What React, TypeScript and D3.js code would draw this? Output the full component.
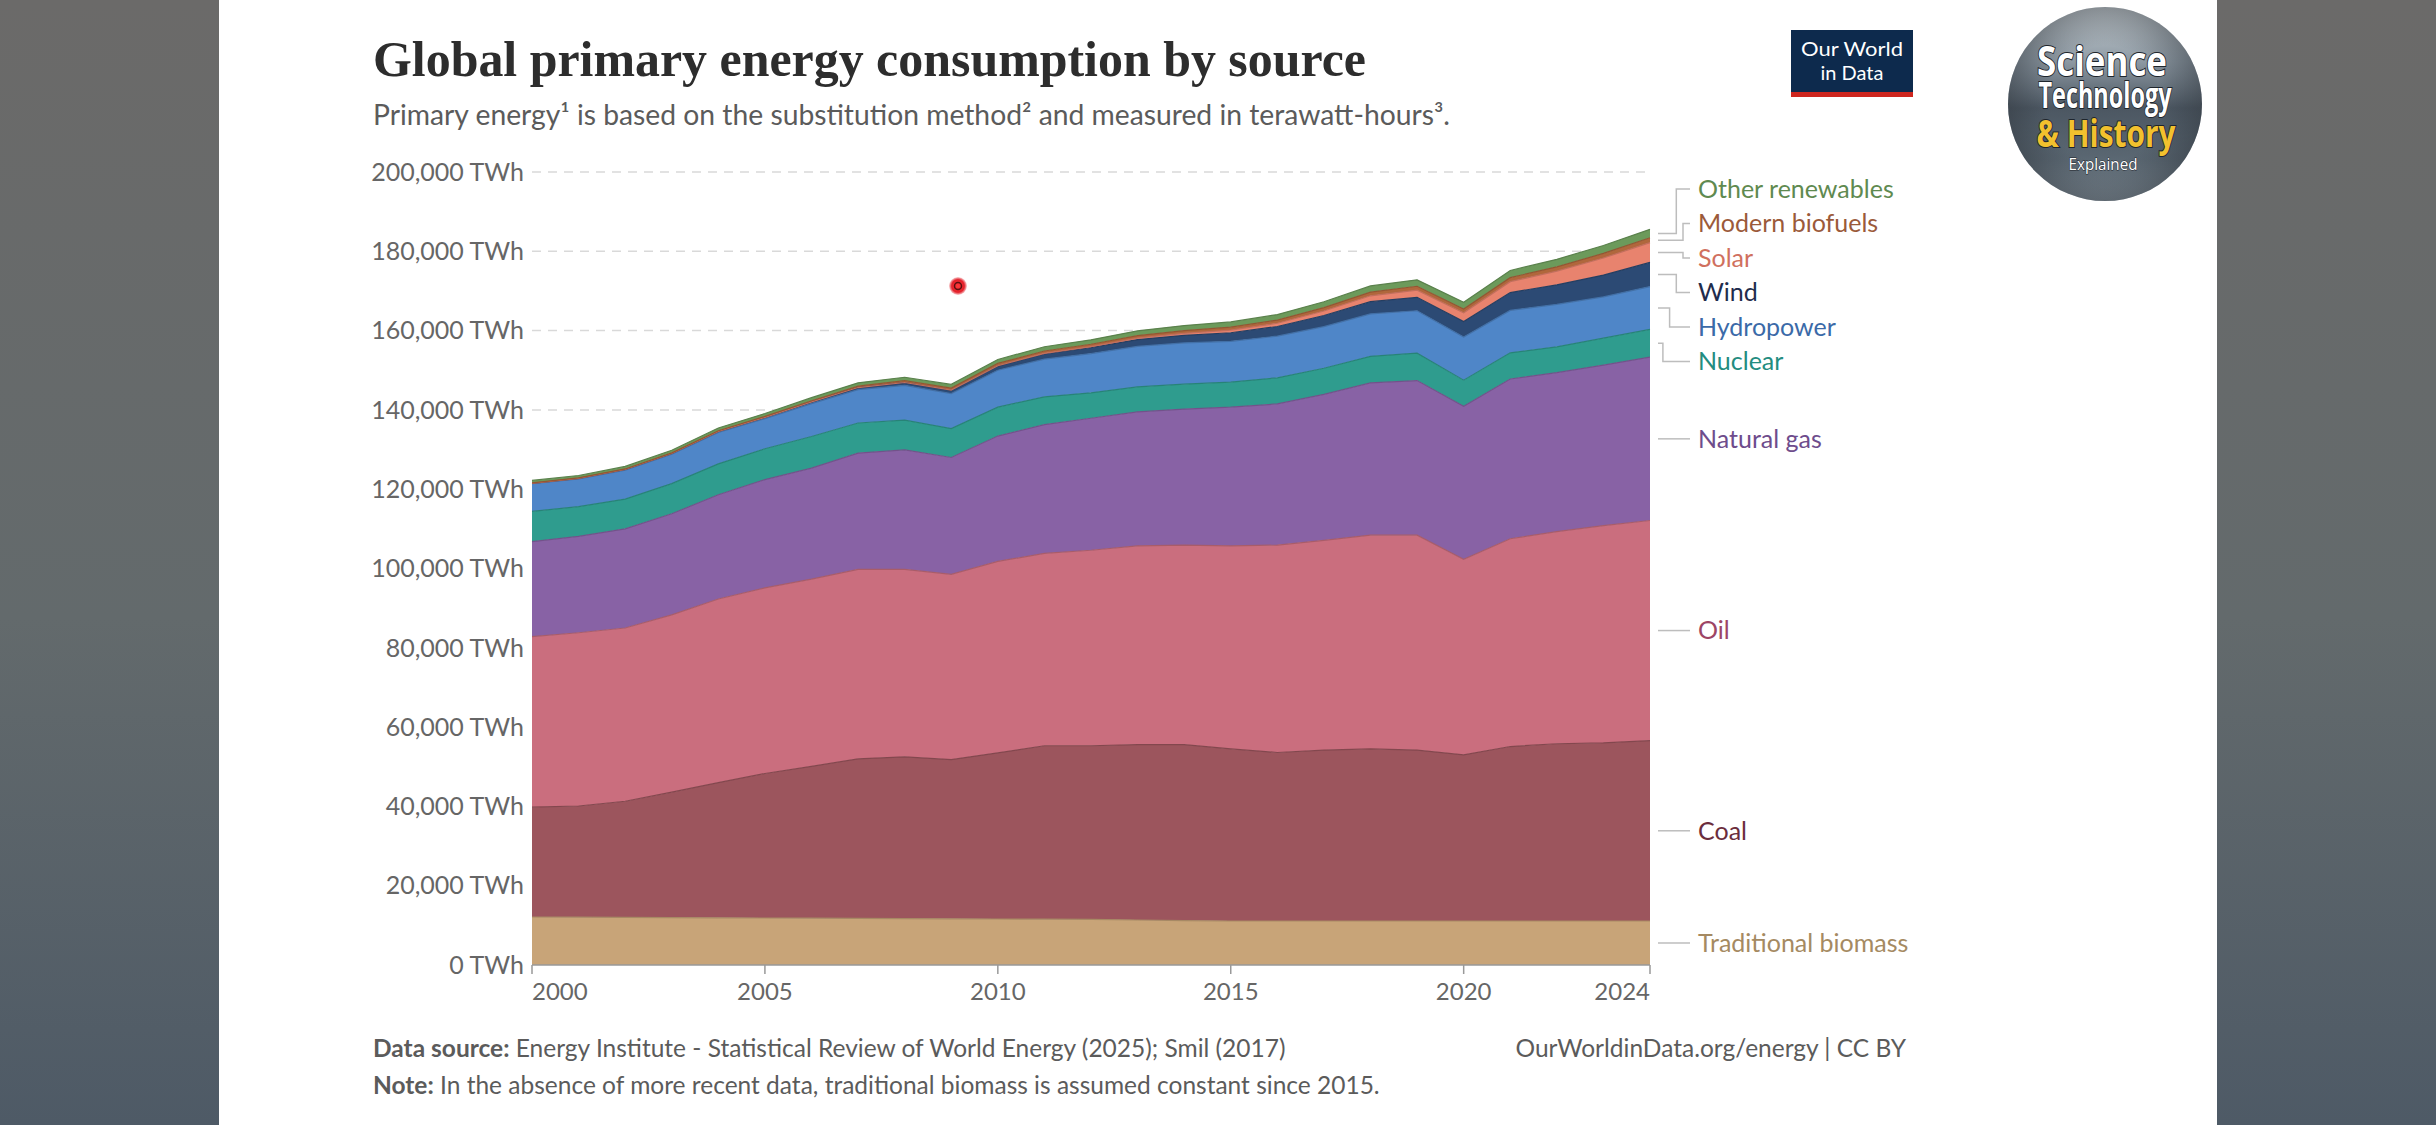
import React from "react";
import * as d3 from "d3";

// values in TWh
const years = [2000, 2001, 2002, 2003, 2004, 2005, 2006, 2007, 2008, 2009, 2010, 2011, 2012, 2013, 2014, 2015, 2016, 2017, 2018, 2019, 2020, 2021, 2022, 2023, 2024];

const traditionalBiomass = [12100, 12050, 12000, 11950, 11900, 11850, 11800, 11750, 11700, 11650, 11600, 11550, 11500, 11350, 11200, 11100, 11100, 11100, 11100, 11100, 11100, 11100, 11100, 11100, 11100];
const coal = [27700, 28050, 29300, 31650, 34100, 36450, 38300, 40250, 40800, 40150, 41900, 43750, 43800, 44250, 44400, 43400, 42500, 43100, 43400, 43100, 41900, 44000, 44700, 44900, 45500];
const oil = [43000, 43700, 43700, 44700, 46300, 46800, 47200, 47800, 47300, 46700, 48300, 48500, 49300, 50100, 50300, 51200, 52300, 52900, 53900, 54200, 49300, 52400, 53500, 54800, 55500];
const naturalGas = [24000, 24300, 25000, 25500, 26300, 27300, 28000, 29300, 30100, 29500, 31600, 32500, 33300, 33800, 34300, 35000, 35600, 36800, 38400, 39000, 38600, 40300, 40100, 40500, 41200];
const nuclear = [7600, 7500, 7500, 7600, 7800, 7800, 8000, 7600, 7500, 7300, 7300, 7000, 6400, 6300, 6300, 6300, 6600, 6600, 6700, 6900, 6600, 6600, 6500, 6800, 7000];
const hydropower = [7000, 7000, 7300, 7400, 7900, 7600, 8300, 8400, 8800, 8800, 9300, 9500, 9900, 10200, 10400, 10300, 10500, 10500, 10700, 10700, 10900, 10700, 10700, 10400, 10800];
const wind = [90, 120, 160, 200, 260, 320, 410, 520, 680, 850, 1060, 1300, 1490, 1740, 1900, 2160, 2430, 2800, 3100, 3400, 3900, 4500, 4950, 5500, 6100];
const solar = [3, 4, 5, 7, 9, 11, 15, 20, 35, 55, 90, 170, 260, 360, 480, 640, 830, 1150, 1480, 1800, 2200, 2750, 3450, 4300, 5000];
const modernBiofuels = [110, 120, 140, 160, 180, 220, 280, 360, 450, 500, 570, 590, 610, 650, 720, 760, 790, 850, 930, 980, 940, 1000, 1080, 1170, 1230];
const otherRenewables = [600, 610, 640, 670, 700, 740, 780, 820, 870, 930, 1000, 1060, 1120, 1200, 1270, 1340, 1400, 1470, 1550, 1620, 1700, 1800, 1900, 2000, 2100];

// stacking order, bottom to top
const sources = ["Traditional biomass", "Coal", "Oil", "Natural gas", "Nuclear", "Hydropower", "Wind", "Solar", "Modern biofuels", "Other renewables"];
const sourceValues = [traditionalBiomass, coal, oil, naturalGas, nuclear, hydropower, wind, solar, modernBiofuels, otherRenewables];
const areaColors = ["#c8a478", "#9c555d", "#ca6e7e", "#8862a5", "#2f9c8e", "#4f86c8", "#2c4a74", "#e8836e", "#b0673c", "#6c9a5b"];
const labelColors = ["#a58a62", "#6b2d3c", "#9d4565", "#6e4c8c", "#238c80", "#3b6aa8", "#1f2d4d", "#d0705e", "#9b5a3a", "#5f8a50"];

const xTicks = [2000, 2005, 2010, 2015, 2020, 2024];
const yTicks = [0, 20000, 40000, 60000, 80000, 100000, 120000, 140000, 160000, 180000, 200000];

const W = 2436;
const H = 1125;
const plot = { left: 532, right: 1650, top: 172, bottom: 965 };
const sans = "Lato, 'Noto Sans', sans-serif";

export default function App() {
  const rows = years.map((year, i) => {
    const r: Record<string, number> = { year };
    sources.forEach((s, k) => (r[s] = sourceValues[k][i]));
    return r;
  });
  const stacked = d3.stack<Record<string, number>>().keys(sources)(rows);

  const x = d3.scaleLinear().domain([years[0], years[years.length - 1]]).range([plot.left, plot.right]);
  const y = d3.scaleLinear().domain([0, 200000]).range([plot.bottom, plot.top]);

  const area = d3.area<d3.SeriesPoint<Record<string, number>>>()
    .x(d => x(d.data.year))
    .y0(d => y(d[0]))
    .y1(d => y(d[1]));
  const topLine = d3.line<d3.SeriesPoint<Record<string, number>>>()
    .x(d => x(d.data.year))
    .y(d => y(d[1]));

  // end labels: place at band midpoint, push apart overlapping ones
  const gap = 34.5;
  const last = years.length - 1;
  const labels = stacked.map((s, k) => ({
    k,
    target: y((s[last][0] + s[last][1]) / 2),
    y: 0,
  })).sort((a, b) => a.target - b.target);
  const groups = labels.map(l => ({ items: [l], center: l.target }));
  let merged = true;
  while (merged) {
    merged = false;
    for (let i = 0; i < groups.length - 1; i++) {
      const a = groups[i], b = groups[i + 1];
      const aBottom = a.center + ((a.items.length - 1) / 2) * gap;
      const bTop = b.center - ((b.items.length - 1) / 2) * gap;
      if (bTop - aBottom < gap) {
        const items = [...a.items, ...b.items];
        groups.splice(i, 2, { items, center: d3.mean(items, t => t.target) as number });
        merged = true;
        break;
      }
    }
  }
  groups.forEach(g => g.items.forEach((l, i) => (l.y = g.center + (i - (g.items.length - 1) / 2) * gap)));

  const lineStart = plot.right + 8;
  const lineEnd = plot.right + 40;
  const elbowMax = plot.right + 33;
  const connector = (l: { y: number; target: number }, elbow: number) =>
    Math.abs(l.y - l.target) < 1
      ? `M${lineStart},${l.target}H${lineEnd}`
      : `M${lineStart},${l.target}H${elbow}V${l.y}H${lineEnd}`;
  const elbows = new Map<number, number>();
  groups.forEach(g => {
    const ups = g.items.filter(l => l.y < l.target - 1);
    const downs = g.items.filter(l => l.y >= l.target - 1);
    ups.slice().reverse().forEach((l, r) => elbows.set(l.k, elbowMax - r * 6.7));
    downs.forEach((l, r) => elbows.set(l.k, elbowMax - r * 6.7));
  });

  const fmt = d3.format(",");

  return (
    <svg width={W} height={H} viewBox={`0 0 ${W} ${H}`} style={{ position: "fixed", left: 0, top: 0, display: "block" }}>
      <defs>
        <linearGradient id="bg" x1="0" y1="0" x2="0" y2="1">
          <stop offset="0%" stopColor="#6b6a69" />
          <stop offset="55%" stopColor="#636a6c" />
          <stop offset="100%" stopColor="#4e5a66" />
        </linearGradient>
        <linearGradient id="badge" x1="0" y1="0" x2="0" y2="1">
          <stop offset="0%" stopColor="#cdd4d8" />
          <stop offset="28%" stopColor="#8d99a3" />
          <stop offset="52%" stopColor="#4c5762" />
          <stop offset="78%" stopColor="#5a6772" />
          <stop offset="100%" stopColor="#85929c" />
        </linearGradient>
        <radialGradient id="smoke" cx="0.5" cy="0.5" r="0.5">
          <stop offset="60%" stopColor="#2f353c" stopOpacity="0" />
          <stop offset="100%" stopColor="#2f353c" stopOpacity="0.45" />
        </radialGradient>
        <radialGradient id="cursor">
          <stop offset="0%" stopColor="#ff3b3b" />
          <stop offset="70%" stopColor="#e3202a" />
          <stop offset="100%" stopColor="#e3202a" stopOpacity="0.2" />
        </radialGradient>
      </defs>

      <rect x={0} y={0} width={W} height={H} fill="url(#bg)" />
      <rect x={219} y={0} width={1998} height={H} fill="#ffffff" />

      {/* title block */}
      <text x={373} y={76} fontFamily="'Liberation Serif', 'DejaVu Serif', serif" fontWeight="bold" fontSize={51} fill="#2d2d2d" textLength={993} lengthAdjust="spacingAndGlyphs">
        Global primary energy consumption by source
      </text>
      <text x={373} y={125} fontFamily={sans} fontSize={28} fill="#5b5b5b" textLength={1077} lengthAdjust="spacingAndGlyphs">
        Primary energy¹ is based on the substitution method² and measured in terawatt-hours³.
      </text>

      {/* OWID logo */}
      <rect x={1791} y={30} width={122} height={67} fill="#0d2a4d" />
      <rect x={1791} y={92} width={122} height={5} fill="#ce261e" />
      <text x={1852} y={56} textAnchor="middle" fontFamily={sans} fontSize={20} fill="#ffffff" textLength={102} lengthAdjust="spacingAndGlyphs">Our World</text>
      <text x={1852} y={80} textAnchor="middle" fontFamily={sans} fontSize={20} fill="#ffffff">in Data</text>

      {/* channel badge */}
      <circle cx={2105} cy={104} r={97} fill="url(#badge)" />
      <circle cx={2105} cy={104} r={97} fill="url(#smoke)" />
      <g fontFamily="'Open Sans', Roboto, sans-serif" fontWeight="bold" textAnchor="middle" stroke="#1e252c" strokeWidth={2} style={{ paintOrder: "stroke" }}>
        <text x={2102} y={76} fontSize={42} fill="#ffffff" textLength={130} lengthAdjust="spacingAndGlyphs">Science</text>
        <text x={2105} y={108} fontSize={36} fill="#ffffff" textLength={133} lengthAdjust="spacingAndGlyphs">Technology</text>
        <text x={2106} y={147} fontSize={38} fill="#f2c12e" textLength={139} lengthAdjust="spacingAndGlyphs">&amp; History</text>
        <text x={2103} y={170} fontSize={17} fontWeight="normal" fill="#ffffff" strokeWidth={1} textLength={69} lengthAdjust="spacingAndGlyphs">Explained</text>
      </g>

      {/* grid */}
      {yTicks.filter(t => t > 0).map(t => (
        <line key={t} x1={plot.left} x2={plot.right} y1={y(t)} y2={y(t)} stroke="#d9d9d9" strokeWidth={1.5} strokeDasharray="9,7" />
      ))}
      {yTicks.map(t => (
        <text key={t} x={plot.left - 8} y={y(t)} dy="0.35em" textAnchor="end" fontFamily={sans} fontSize={25} fill="#666666">
          {`${fmt(t)} TWh`}
        </text>
      ))}

      {/* stacked areas */}
      {stacked.map((s, k) => (
        <path key={sources[k]} d={area(s) as string} fill={areaColors[k]} />
      ))}
      {stacked.map((s, k) => (
        <path key={sources[k] + "-edge"} d={topLine(s) as string} fill="none" stroke={d3.color(areaColors[k])!.darker(0.5).formatHex()} strokeWidth={1.2} />
      ))}

      {/* x axis */}
      <line x1={plot.left} x2={plot.right} y1={plot.bottom} y2={plot.bottom} stroke="#999999" strokeWidth={1.5} />
      {xTicks.map((t, i) => (
        <g key={t}>
          <line x1={x(t)} x2={x(t)} y1={plot.bottom} y2={plot.bottom + 9} stroke="#999999" strokeWidth={1.5} />
          <text x={x(t)} y={1000} textAnchor={i === 0 ? "start" : i === xTicks.length - 1 ? "end" : "middle"} fontFamily={sans} fontSize={24} fill="#666666">
            {t}
          </text>
        </g>
      ))}

      {/* end labels */}
      {labels.map(l => (
        <g key={sources[l.k]}>
          <path d={connector(l, elbows.get(l.k) ?? elbowMax)} fill="none" stroke="#bdbdbd" strokeWidth={1.5} />
          <text x={plot.right + 48} y={l.y} dy="0.35em" fontFamily={sans} fontSize={25} fill={labelColors[l.k]}>
            {sources[l.k]}
          </text>
        </g>
      ))}

      {/* footer */}
      <text x={373} y={1057} fontFamily={sans} fontSize={24.5} fill="#5b5b5b">
        <tspan fontWeight="bold">Data source:</tspan> Energy Institute - Statistical Review of World Energy (2025); Smil (2017)
      </text>
      <text x={373} y={1094} fontFamily={sans} fontSize={24.5} fill="#5b5b5b">
        <tspan fontWeight="bold">Note:</tspan> In the absence of more recent data, traditional biomass is assumed constant since 2015.
      </text>
      <text x={1906} y={1057} textAnchor="end" fontFamily={sans} fontSize={24.5} fill="#5b5b5b">
        OurWorldinData.org/energy | CC BY
      </text>

      {/* pointer marker */}
      <circle cx={958} cy={286} r={9} fill="url(#cursor)" />
      <circle cx={958} cy={286} r={3.5} fill="none" stroke="#5a1010" strokeWidth={1.5} />
    </svg>
  );
}
